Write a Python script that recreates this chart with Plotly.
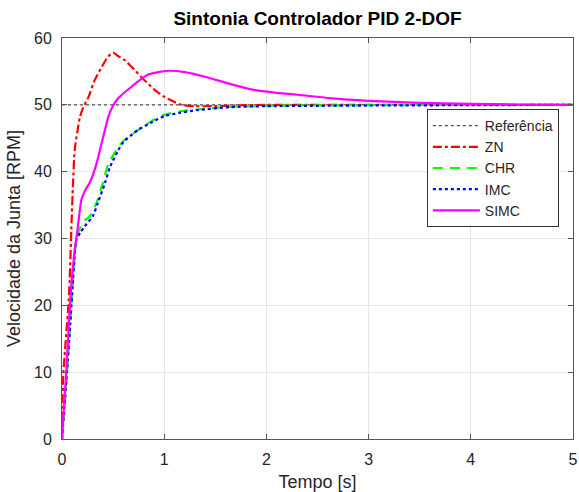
import plotly.graph_objects as go

# step responses (time in s, speed in RPM)
REF_T = [0, 5]
REF_V = [50, 50]

ZN_T = [0, 0.005, 0.013, 0.026, 0.045, 0.062, 0.075, 0.091, 0.108, 0.124, 0.15, 0.176,
        0.205, 0.26, 0.32, 0.39, 0.45, 0.50, 0.55, 0.62, 0.68, 0.8, 0.91, 1.0, 1.09,
        1.17, 1.3, 1.48, 1.7, 2.0, 2.5, 3.0, 4.0, 5.0]
ZN_V = [0, 5, 9.8, 12.5, 16.5, 19.8, 23.8, 31.3, 38.3, 43.2, 46.0, 48.2,
        49.5, 51.2, 53.7, 55.7, 57.2, 57.8, 57.3, 56.6, 55.7, 53.8, 52.2, 51.2, 50.5,
        50.0, 49.8, 49.8, 49.9, 50.0, 50.0, 50.0, 50.0, 50.0]

CHR_T = [0, 0.025, 0.049, 0.08, 0.108, 0.13, 0.157, 0.205, 0.27, 0.336, 0.40, 0.45,
         0.53, 0.6, 0.75, 0.88, 1.0, 1.15, 1.32, 1.64, 2.0, 2.3, 3.0, 4.0, 5.0]
CHR_V = [0, 5, 10, 17, 24.0, 28.5, 30.8, 32.5, 33.3, 35.3, 38.3, 41.0,
         43.2, 44.6, 46.3, 47.6, 48.5, 49.0, 49.3, 49.7, 49.85, 49.9, 49.95, 50.0, 50.0]

IMC_T = [0, 0.025, 0.049, 0.08, 0.108, 0.125, 0.14, 0.18, 0.22, 0.30, 0.35, 0.42,
         0.47, 0.55, 0.6, 0.74, 0.88, 1.0, 1.15, 1.32, 1.64, 2.0, 2.5, 3.0, 4.0, 5.0]
IMC_V = [0, 5, 10, 17, 23.8, 27.5, 29.8, 30.9, 31.8, 33.3, 35.3, 38.3,
         40.7, 43.2, 44.4, 46.2, 47.4, 48.3, 48.8, 49.2, 49.65, 49.8, 49.85, 49.9, 49.95, 50.0]

SIMC_T = [0, 0.02, 0.042, 0.07, 0.091, 0.108, 0.125, 0.14, 0.165, 0.19, 0.23, 0.27,
          0.32, 0.355, 0.38, 0.42, 0.453, 0.5, 0.55, 0.6, 0.68, 0.76, 0.84, 0.94,
          1.04, 1.2, 1.4, 1.65, 1.89, 2.1, 2.38, 2.62, 3.0, 3.5, 4.0, 4.5, 5.0]
SIMC_V = [0, 5, 10, 18, 23.0, 25.8, 28.5, 30.0, 33.0, 35.8, 37.3, 38.3,
          40.3, 42.2, 43.8, 46.2, 48.2, 49.9, 51.0, 51.7, 52.7, 53.7, 54.5, 54.9,
          55.1, 54.9, 54.2, 53.1, 52.2, 51.8, 51.4, 51.0, 50.6, 50.3, 50.15, 50.05, 50.0]

SERIES = [
    ("Referência", REF_T, REF_V, "#505050", "dot", 1.2),
    ("ZN", ZN_T, ZN_V, "#ff0000", "dashdot", 2.2),
    ("CHR", CHR_T, CHR_V, "#00ff00", "10px,7px", 2.2),
    ("IMC", IMC_T, IMC_V, "#0000ff", "dot", 2.2),
    ("SIMC", SIMC_T, SIMC_V, "#ff00ff", "solid", 2.2),
]

FONT = "Liberation Sans, Arial, Helvetica, sans-serif"
AX = "#555555"
W, H = 579, 492

fig = go.Figure()
for name, t, v, color, dash, width in SERIES:
    fig.add_trace(go.Scatter(
        x=t, y=v, name=name, mode="lines",
        line=dict(color=color, dash=dash, width=width,
                  shape="linear" if name == "Referência" else "spline", smoothing=0.6),
    ))

fig.update_layout(
    width=W, height=H,
    margin=dict(l=62, r=6, t=38, b=53, autoexpand=False),
    paper_bgcolor="white", plot_bgcolor="white",
    font=dict(family=FONT, size=16, color="#262626"),
    title=dict(text="<b>Sintonia Controlador PID 2-DOF</b>",
               x=0.5, xref="paper", xanchor="center",
               y=1 - 18 / H, yanchor="middle", automargin=False,
               font=dict(family=FONT, size=19, color="black")),
    legend=dict(x=0.714, y=0.823, xanchor="left", yanchor="top",
                bgcolor="white", bordercolor="#333333", borderwidth=1,
                font=dict(family=FONT, size=14, color="#262626"),
                tracegroupgap=0, itemwidth=47),
    showlegend=True,
)

axis_style = dict(
    showline=True, linecolor=AX, linewidth=1, mirror="ticks",
    ticks="inside", ticklen=5, tickcolor=AX, automargin=False,
    showgrid=True, gridcolor="#e6e6e6", gridwidth=1,
    zeroline=False, tickfont=dict(family=FONT, size=16, color="#262626"),
)
fig.update_xaxes(range=[0, 5], tickvals=[0, 1, 2, 3, 4, 5], ticklabelstandoff=6,
                 title=dict(text="Tempo [s]", standoff=12,
                            font=dict(family=FONT, size=18, color="#262626")),
                 **axis_style)
fig.update_yaxes(range=[0, 60], tickvals=[0, 10, 20, 30, 40, 50, 60], ticklabelstandoff=6,
                 title=dict(text="Velocidade da Junta [RPM]", standoff=8,
                            font=dict(family=FONT, size=18, color="#262626")),
                 **axis_style)

# drop the browser's default body margin so the figure sits at the page corner
fig.write_html("out.html",
               post_script="document.body.style.margin='0';document.body.style.overflow='hidden';",
               config={"displayModeBar": False})
